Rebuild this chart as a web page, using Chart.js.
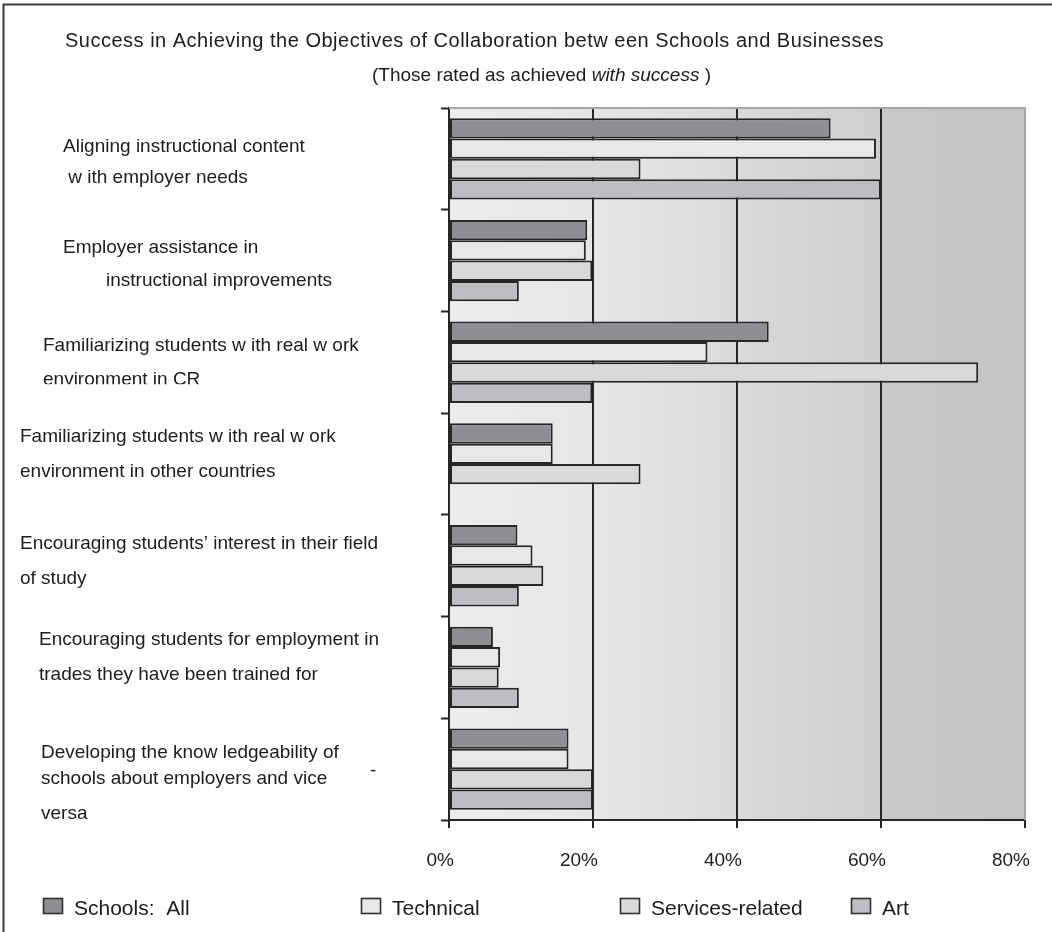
<!DOCTYPE html>
<html>
<head>
<meta charset="utf-8">
<script src="https://cdn.jsdelivr.net/npm/chart.js@4.4.1/dist/chart.umd.min.js"></script>
<style>
  html, body { margin: 0; padding: 0; background: #ffffff; }
  #wrap { width: 1052px; height: 932px; }
</style>
</head>
<body>
<div id="wrap"><canvas id="chart" width="1052" height="932"></canvas></div>
<script>
// ---- data ----
const categories = [
  ['Aligning instructional content', ' w ith employer needs'],
  ['Employer assistance in', 'instructional improvements'],
  ['Familiarizing students w ith real w ork', 'environment in CR'],
  ['Familiarizing students w ith real w ork', 'environment in other countries'],
  ['Encouraging students\u2019 interest in their field', 'of study'],
  ['Encouraging students for employment in', 'trades they have been trained for'],
  ['Developing the know ledgeability of', 'schools about employers and vice', 'versa']
];
const seriesNames = ['Schools:  All', 'Technical', 'Services-related', 'Art'];
const schoolsAll      = [53.0, 19.2, 44.4, 14.4,  9.5, 6.1, 16.6];
const technical       = [59.3, 19.0, 35.9, 14.4, 11.6, 7.1, 16.6];
const servicesRelated = [26.6, 19.9, 73.5, 26.6, 13.1, 6.9, 20.0];
const art             = [60.0,  9.7, 19.9, null,  9.7, 9.7, 20.0];
const xTickValues = [0, 20, 40, 60, 80];
const titleText = 'Success in Achieving the Objectives of Collaboration betw een Schools and Businesses';
const subtitleParts = [['(Those rated as achieved ', false], ['with success', true], [' )', false]];

// ---- look ----
const FONT = '"Liberation Sans", Arial, sans-serif';
const TEXT = '#1c1c1c';
const seriesColors = ['#8e8f93', '#e7e8ea', '#d8d9db', '#bdbec1'];
const edge = '#262626';

// placement of the category captions, relative to each category's centre
const captionLayout = [
  { x: [63, 63],      dy: [-12, 19] },
  { x: [63, 106],     dy: [-13, 20] },
  { x: [43, 43],      dy: [-17, 17], clipBelow: 22 },
  { x: [20, 20],      dy: [-27, 8] },
  { x: [20, 20],      dy: [-22, 13] },
  { x: [39, 39],      dy: [-28, 7] },
  { x: [41, 41, 41],  dy: [-16, 10, 45], mark: { text: '-', x: 370, dy: 2 } }
];
const legendX = [43, 361, 620, 851];

const decor = {
  id: 'decor',
  beforeDraw(chart) {
    const { ctx, chartArea: a } = chart;
    ctx.save();
    ctx.fillStyle = '#ffffff';
    ctx.fillRect(0, 0, chart.width, chart.height);
    const g = ctx.createLinearGradient(a.left, 0, a.right, 0);
    g.addColorStop(0, '#ebecee');
    g.addColorStop(0.25, '#e5e6e8');
    g.addColorStop(0.5, '#d9dadc');
    g.addColorStop(0.749, '#cdcecf');
    g.addColorStop(0.751, '#c6c7c9');
    g.addColorStop(1, '#c3c4c6');
    ctx.fillStyle = g;
    ctx.fillRect(a.left, a.top, a.right - a.left, a.bottom - a.top);
    // page frame (top and left)
    ctx.strokeStyle = '#3c3c3c';
    ctx.lineWidth = 2;
    ctx.beginPath();
    ctx.moveTo(3.5, chart.height);
    ctx.lineTo(3.5, 4.5);
    ctx.lineTo(chart.width, 4.5);
    ctx.stroke();
    ctx.restore();
  },
  beforeDatasetsDraw(chart) {
    const { ctx, chartArea: a } = chart;
    ctx.save();
    ctx.strokeStyle = '#a6a6a8';
    ctx.lineWidth = 2;
    ctx.beginPath();
    ctx.moveTo(a.left, a.top);
    ctx.lineTo(a.right, a.top);
    ctx.lineTo(a.right, a.bottom);
    ctx.stroke();
    ctx.restore();
  },
  afterDraw(chart) {
    const { ctx } = chart;
    const yScale = chart.scales.y;
    ctx.save();
    ctx.fillStyle = TEXT;
    ctx.textBaseline = 'middle';
    ctx.textAlign = 'left';

    // title and subtitle
    ctx.font = '20px ' + FONT;
    ctx.letterSpacing = '0.5px';
    ctx.fillText(titleText, 65, 41);
    ctx.letterSpacing = '0px';
    let sx = 372;
    subtitleParts.forEach(([t, it]) => {
      ctx.font = (it ? 'italic ' : '') + '19px ' + FONT;
      ctx.fillText(t, sx, 76);
      sx += ctx.measureText(t).width;
    });

    // category captions
    ctx.font = '19px ' + FONT;
    categories.forEach((lines, i) => {
      const cy = yScale.getPixelForValue(i);
      const lay = captionLayout[i];
      ctx.save();
      if (lay.clipBelow) {
        ctx.beginPath();
        ctx.rect(0, 0, chart.width, cy + lay.clipBelow);
        ctx.clip();
      }
      lines.forEach((ln, j) => ctx.fillText(ln, lay.x[j], cy + lay.dy[j]));
      ctx.restore();
      if (lay.mark) ctx.fillText(lay.mark.text, lay.mark.x, cy + lay.mark.dy);
    });

    // legend
    ctx.font = '21px ' + FONT;
    chart.data.datasets.forEach((ds, i) => {
      const bx = legendX[i];
      ctx.fillStyle = ds.backgroundColor;
      ctx.fillRect(bx, 898, 19, 15);
      ctx.strokeStyle = '#303030';
      ctx.lineWidth = 1.6;
      ctx.strokeRect(bx + 0.5, 898.5, 19, 15);
      ctx.fillStyle = TEXT;
      ctx.fillText(ds.label, bx + 31, 909);
    });
    ctx.restore();
  }
};

const datasets = [schoolsAll, technical, servicesRelated, art].map((vals, i) => ({
  label: seriesNames[i],
  data: vals,
  backgroundColor: seriesColors[i],
  borderColor: edge,
  borderWidth: 2,
  borderSkipped: false,
  categoryPercentage: 0.8,
  barPercentage: 1.0
}));

new Chart(document.getElementById('chart'), {
  type: 'bar',
  data: { labels: categories.map(l => l.join(' ')), datasets },
  plugins: [decor],
  options: {
    indexAxis: 'y',
    responsive: false,
    devicePixelRatio: 1,
    animation: false,
    layout: { padding: { left: 0, top: 108, right: 27, bottom: 0 } },
    plugins: { legend: { display: false }, tooltip: { enabled: false } },
    scales: {
      x: {
        type: 'linear',
        min: 0,
        max: 80,
        afterBuildTicks(scale) { scale.ticks = xTickValues.map(v => ({ value: v })); },
        afterFit(scale) { scale.height = 112; },
        grid: {
          color: c => (c.tick && c.tick.value === 80) ? '#a6a6a8' : '#262626',
          lineWidth: 2,
          drawTicks: true,
          tickLength: 8,
          tickColor: '#262626',
          tickWidth: 2
        },
        border: { display: true, color: '#262626', width: 2 },
        ticks: {
          callback: v => v + '%',
          color: TEXT,
          font: { family: FONT, size: 19 },
          align: 'end',
          labelOffset: 5,
          padding: 21,
          maxRotation: 0
        }
      },
      y: {
        type: 'category',
        offset: true,
        afterFit(scale) { scale.width = 449; },
        grid: {
          offset: true,
          drawOnChartArea: false,
          drawTicks: true,
          tickLength: 8,
          tickColor: '#262626',
          tickWidth: 2
        },
        border: { display: true, color: '#262626', width: 2 },
        ticks: { display: false }
      }
    }
  }
});
</script>
</body>
</html>
